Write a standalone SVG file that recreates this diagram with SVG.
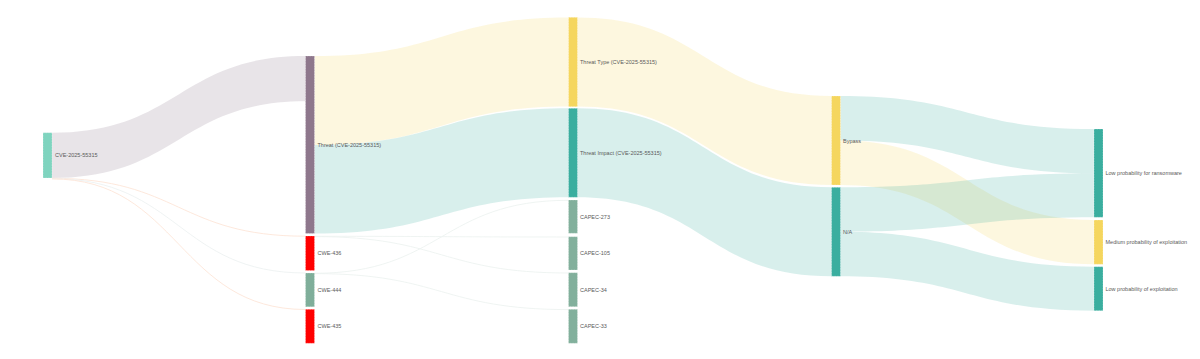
<svg xmlns="http://www.w3.org/2000/svg" width="1200" height="359" viewBox="0 0 1200 359">
<style>
.lbl{font-family:"Liberation Sans",Arial,sans-serif;font-size:5.5px;fill:#5a5a5a;dominant-baseline:central}
.band{stroke:none}
.thin{fill:none;stroke-width:0.9}
.nd{stroke:#fff;stroke-width:0.4;stroke-dasharray:0.8 0.8}
</style>
<rect width="1200" height="359" fill="#fff"/>
<g id="connectors">
<path class="band" fill="#8e778c" fill-opacity="0.2" d="M52,132.7 C178.75,132.7 178.75,56 305.5,56 L305.5,101.3 C178.75,101.3 178.75,178 52,178 Z"/>
<path class="band" fill="#f5d65e" fill-opacity="0.2" d="M314.5,56 C441.5,56 441.5,17.5 568.5,17.5 L568.5,106.6 C441.5,106.6 441.5,145 314.5,145 Z"/>
<path class="band" fill="#3aae9f" fill-opacity="0.2" d="M314.5,145 C441.5,145 441.5,108.3 568.5,108.3 L568.5,197.3 C441.5,197.3 441.5,233.5 314.5,233.5 Z"/>
<path class="band" fill="#f5d65e" fill-opacity="0.2" d="M577.5,17.5 C704.5,17.5 704.5,96 831.5,96 L831.5,185 C704.5,185 704.5,106.6 577.5,106.6 Z"/>
<path class="band" fill="#3aae9f" fill-opacity="0.2" d="M577.5,108.3 C704.5,108.3 704.5,187.3 831.5,187.3 L831.5,276.3 C704.5,276.3 704.5,197.3 577.5,197.3 Z"/>
<path class="band" fill="#3aae9f" fill-opacity="0.2" d="M840.5,96 C967.25,96 967.25,129 1094,129 L1094,173.3 C967.25,173.3 967.25,140.5 840.5,140.5 Z"/>
<path class="band" fill="#f5d65e" fill-opacity="0.2" d="M840.5,140.5 C967.25,140.5 967.25,220 1094,220 L1094,264.3 C967.25,264.3 967.25,185 840.5,185 Z"/>
<path class="band" fill="#3aae9f" fill-opacity="0.2" d="M840.5,187.3 C967.25,187.3 967.25,173.3 1094,173.3 L1094,217.3 C967.25,217.3 967.25,231.8 840.5,231.8 Z"/>
<path class="band" fill="#3aae9f" fill-opacity="0.2" d="M840.5,231.8 C967.25,231.8 967.25,266.7 1094,266.7 L1094,310.7 C967.25,310.7 967.25,276.3 840.5,276.3 Z"/>
<path class="thin" stroke="#fde5d8" d="M52,178.3 C178.75,178.3 178.75,236.2 305.5,236.2"/>
<path class="thin" stroke="#edf2f2" d="M52,178.6 C178.75,178.6 178.75,273 305.5,273"/>
<path class="thin" stroke="#fde5d8" d="M52,178.9 C178.75,178.9 178.75,309.5 305.5,309.5"/>
<path class="thin" stroke="#edf3f1" d="M314.5,236.3 C441.5,236.3 441.5,237 568.5,237"/>
<path class="thin" stroke="#edf3f1" d="M314.5,236.6 C441.5,236.6 441.5,273 568.5,273"/>
<path class="thin" stroke="#edf3f1" d="M314.5,273.3 C441.5,273.3 441.5,200.3 568.5,200.3"/>
<path class="thin" stroke="#edf3f1" d="M314.5,273.6 C441.5,273.6 441.5,309.6 568.5,309.6"/>
</g>
<g id="n-cve"><rect class="nd" x="43" y="132.7" width="9" height="45.3" fill="#7fd4bf"/><text class="lbl" x="55" y="155.4">CVE-2025-55315</text></g>
<g id="n-threat"><rect class="nd" x="305.5" y="56" width="9" height="177.5" fill="#8e778c"/><text class="lbl" x="317.5" y="144.8">Threat (CVE-2025-55315)</text></g>
<g id="n-cwe436"><rect class="nd" x="305.5" y="236" width="9" height="34.5" fill="#ff0000"/><text class="lbl" x="317.5" y="253.2">CWE-436</text></g>
<g id="n-cwe444"><rect class="nd" x="305.5" y="273" width="9" height="33.8" fill="#7fae9a"/><text class="lbl" x="317.5" y="289.9">CWE-444</text></g>
<g id="n-cwe435"><rect class="nd" x="305.5" y="309.3" width="9" height="34" fill="#ff0000"/><text class="lbl" x="317.5" y="326.3">CWE-435</text></g>
<g id="n-ttype"><rect class="nd" x="568.5" y="17.3" width="9" height="89.4" fill="#f5d65e"/><text class="lbl" x="580" y="62">Threat Type (CVE-2025-55315)</text></g>
<g id="n-timpact"><rect class="nd" x="568.5" y="108.3" width="9" height="89" fill="#3aae9f"/><text class="lbl" x="580" y="152.8">Threat Impact (CVE-2025-55315)</text></g>
<g id="n-capec273"><rect class="nd" x="568.5" y="200" width="9" height="33.3" fill="#82b09c"/><text class="lbl" x="580" y="216.7">CAPEC-273</text></g>
<g id="n-capec105"><rect class="nd" x="568.5" y="236.7" width="9" height="33.3" fill="#82b09c"/><text class="lbl" x="580" y="253.3">CAPEC-105</text></g>
<g id="n-capec34"><rect class="nd" x="568.5" y="272.7" width="9" height="34" fill="#82b09c"/><text class="lbl" x="580" y="289.7">CAPEC-34</text></g>
<g id="n-capec33"><rect class="nd" x="568.5" y="309.3" width="9" height="34" fill="#82b09c"/><text class="lbl" x="580" y="326.3">CAPEC-33</text></g>
<g id="n-bypass"><rect class="nd" x="831.5" y="96" width="9" height="89" fill="#f5d65e"/><text class="lbl" x="843" y="140.5">Bypass</text></g>
<g id="n-na"><rect class="nd" x="831.5" y="187.3" width="9" height="89" fill="#3aae9f"/><text class="lbl" x="843" y="231.8">N/A</text></g>
<g id="n-ransom"><rect class="nd" x="1094" y="129" width="9" height="88.3" fill="#3aae9f"/><text class="lbl" x="1105.5" y="173.2">Low probability for ransomware</text></g>
<g id="n-medium"><rect class="nd" x="1094" y="220" width="9" height="44.3" fill="#f5d65e"/><text class="lbl" x="1105.5" y="242.2">Medium probability of exploitation</text></g>
<g id="n-lowexp"><rect class="nd" x="1094" y="266.7" width="9" height="44" fill="#3aae9f"/><text class="lbl" x="1105.5" y="288.7">Low probability of exploitation</text></g>
</svg>
